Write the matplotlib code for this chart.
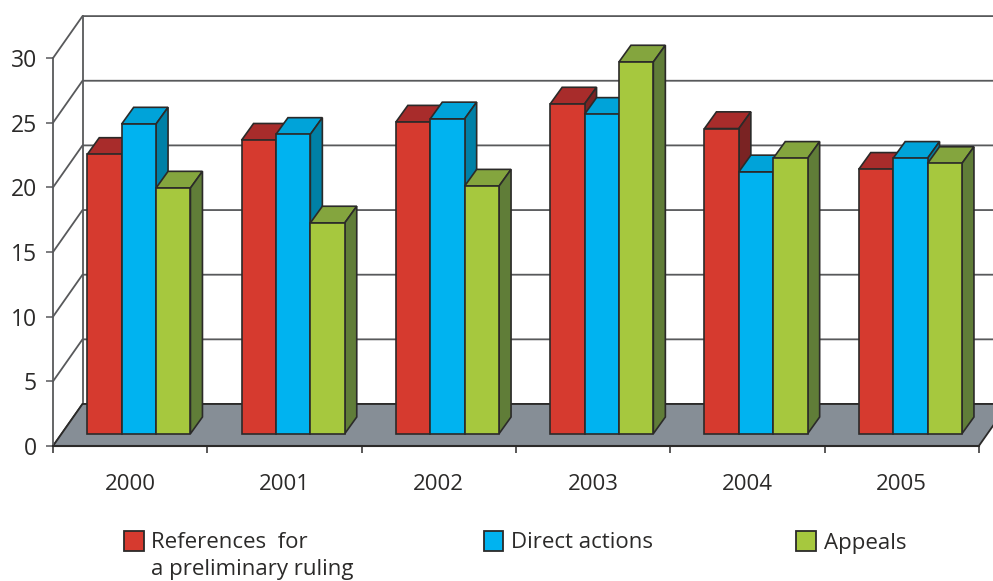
#!/usr/bin/env python3
"""Cases per year as a pseudo-3D grouped bar chart."""

import matplotlib
matplotlib.use("Agg")
import matplotlib.pyplot as plt
from matplotlib.patches import Rectangle
import numpy as np

years = ["2000", "2001", "2002", "2003", "2004", "2005"]
references = [21.6, 22.7, 24.1, 25.5, 23.6, 20.45]
direct_actions = [23.95, 23.15, 24.35, 24.7, 20.25, 21.3]
appeals = [19.0, 16.3, 19.15, 28.75, 21.3, 20.9]
y_ticks = [0, 5, 10, 15, 20, 25, 30]

# front, top, side
RED = ("#d63a2f", "#a82c2b", "#7a2323")
BLUE = ("#00b3f0", "#00a3d9", "#0080a6")
GREEN = ("#a6c83e", "#84a53e", "#607d38")
LINE = "#2b2a29"
GRID = "#58595b"
FLOOR = "#868e96"

W, H = 993, 581
X_UNIT = 154.3   # px per category
Y_UNIT = 12.93   # px per value unit
WALL_DX, WALL_DY = 29.5 / X_UNIT, 42 / Y_UNIT
BAR_DX, BAR_DY = 12 / X_UNIT, 16.7 / Y_UNIT
INSET_DX, BASE = 8.7 / X_UNIT, 12.3 / Y_UNIT
BAR_W = 34.4 / X_UNIT

plt.rcParams["font.family"] = ["Open Sans", "DejaVu Sans"]
plt.rcParams["text.color"] = LINE

fig = plt.figure(figsize=(W / 100, H / 100), dpi=100)
ax = fig.add_axes([53 / W, 1 - 446 / H, 6 * X_UNIT / W, 30 * Y_UNIT / H])
ax.set_xlim(0, 6)
ax.set_ylim(0, 30)
ax.patch.set_alpha(0)

# back wall
for v in y_ticks:
    ax.plot([0, WALL_DX, 6 + WALL_DX], [v, v + WALL_DY, v + WALL_DY],
            color=GRID if v else LINE, lw=1.3, clip_on=False, zorder=1)
ax.plot([WALL_DX, WALL_DX], [WALL_DY, 30 + WALL_DY], color=GRID, lw=1.3,
        clip_on=False, zorder=1)

# floor
ax.fill([0, WALL_DX, 6 + WALL_DX, 6], [0, WALL_DY, WALL_DY, 0], facecolor=FLOOR,
        edgecolor=LINE, lw=1.3, clip_on=False, zorder=2)

# bars, painted left to right so each front hides its left neighbour's side
series = [(references, RED), (direct_actions, BLUE), (appeals, GREEN)]
for i in range(len(years)):
    centre = i + 0.5 + INSET_DX
    for j, (values, colors) in enumerate(series):
        left = centre + (j - 1.5) * BAR_W
        right = left + BAR_W
        top = BASE + values[i]
        z = 3 + i + j * 0.1
        ax.fill([left, left + BAR_DX, right + BAR_DX, right],
                [top, top + BAR_DY, top + BAR_DY, top],
                facecolor=colors[1], edgecolor=LINE, lw=1.2, clip_on=False, zorder=z)
        ax.fill([right, right + BAR_DX, right + BAR_DX, right],
                [BASE, BASE + BAR_DY, top + BAR_DY, top],
                facecolor=colors[2], edgecolor=LINE, lw=1.2, clip_on=False, zorder=z)
        ax.bar(left, values[i], BAR_W, bottom=BASE, align="edge", color=colors[0],
               edgecolor=LINE, lw=1.2, clip_on=False, zorder=z + 0.01)

# axes
for side in ("top", "right"):
    ax.spines[side].set_visible(False)
ax.spines["left"].set_color(GRID)
ax.spines["left"].set_linewidth(1.3)
ax.spines["bottom"].set_color(LINE)
ax.spines["bottom"].set_linewidth(1.5)
ax.spines["bottom"].set_zorder(2.5)

ax.set_yticks(y_ticks)
ax.tick_params(axis="y", length=5, width=1.1, color=GRID, labelsize=16.5, pad=6.5,
               labelcolor=LINE)
ax.set_xticks(np.arange(7))
ax.set_xticklabels([])
ax.tick_params(axis="x", which="major", length=5, width=1.1, color=LINE)
ax.set_xticks(np.arange(6) + 0.5, labels=years, minor=True)
ax.tick_params(axis="x", which="minor", length=0, labelsize=16, pad=20.5,
               labelcolor=LINE)

# legend
legend_items = [
    (123.5, RED[0], "References  for\na preliminary ruling"),
    (483.5, BLUE[0], "Direct actions"),
    (796, GREEN[0], "Appeals"),
]
for x, color, label in legend_items:
    fig.add_artist(Rectangle((x / W, 1 - 550.5 / H), 20 / W, 20 / H, facecolor=color,
                             edgecolor=LINE, lw=1.3, transform=fig.transFigure))
    lines = label.split("\n")
    fig.text((x + 27.5) / W, 1 - 548.5 / H, lines[0], fontsize=16, va="baseline")
    if len(lines) > 1:
        fig.text((x + 27.5) / W, 1 - 575.5 / H, lines[1], fontsize=16, va="baseline")

fig.savefig("out.png", dpi=100, facecolor="white")
plt.close(fig)
